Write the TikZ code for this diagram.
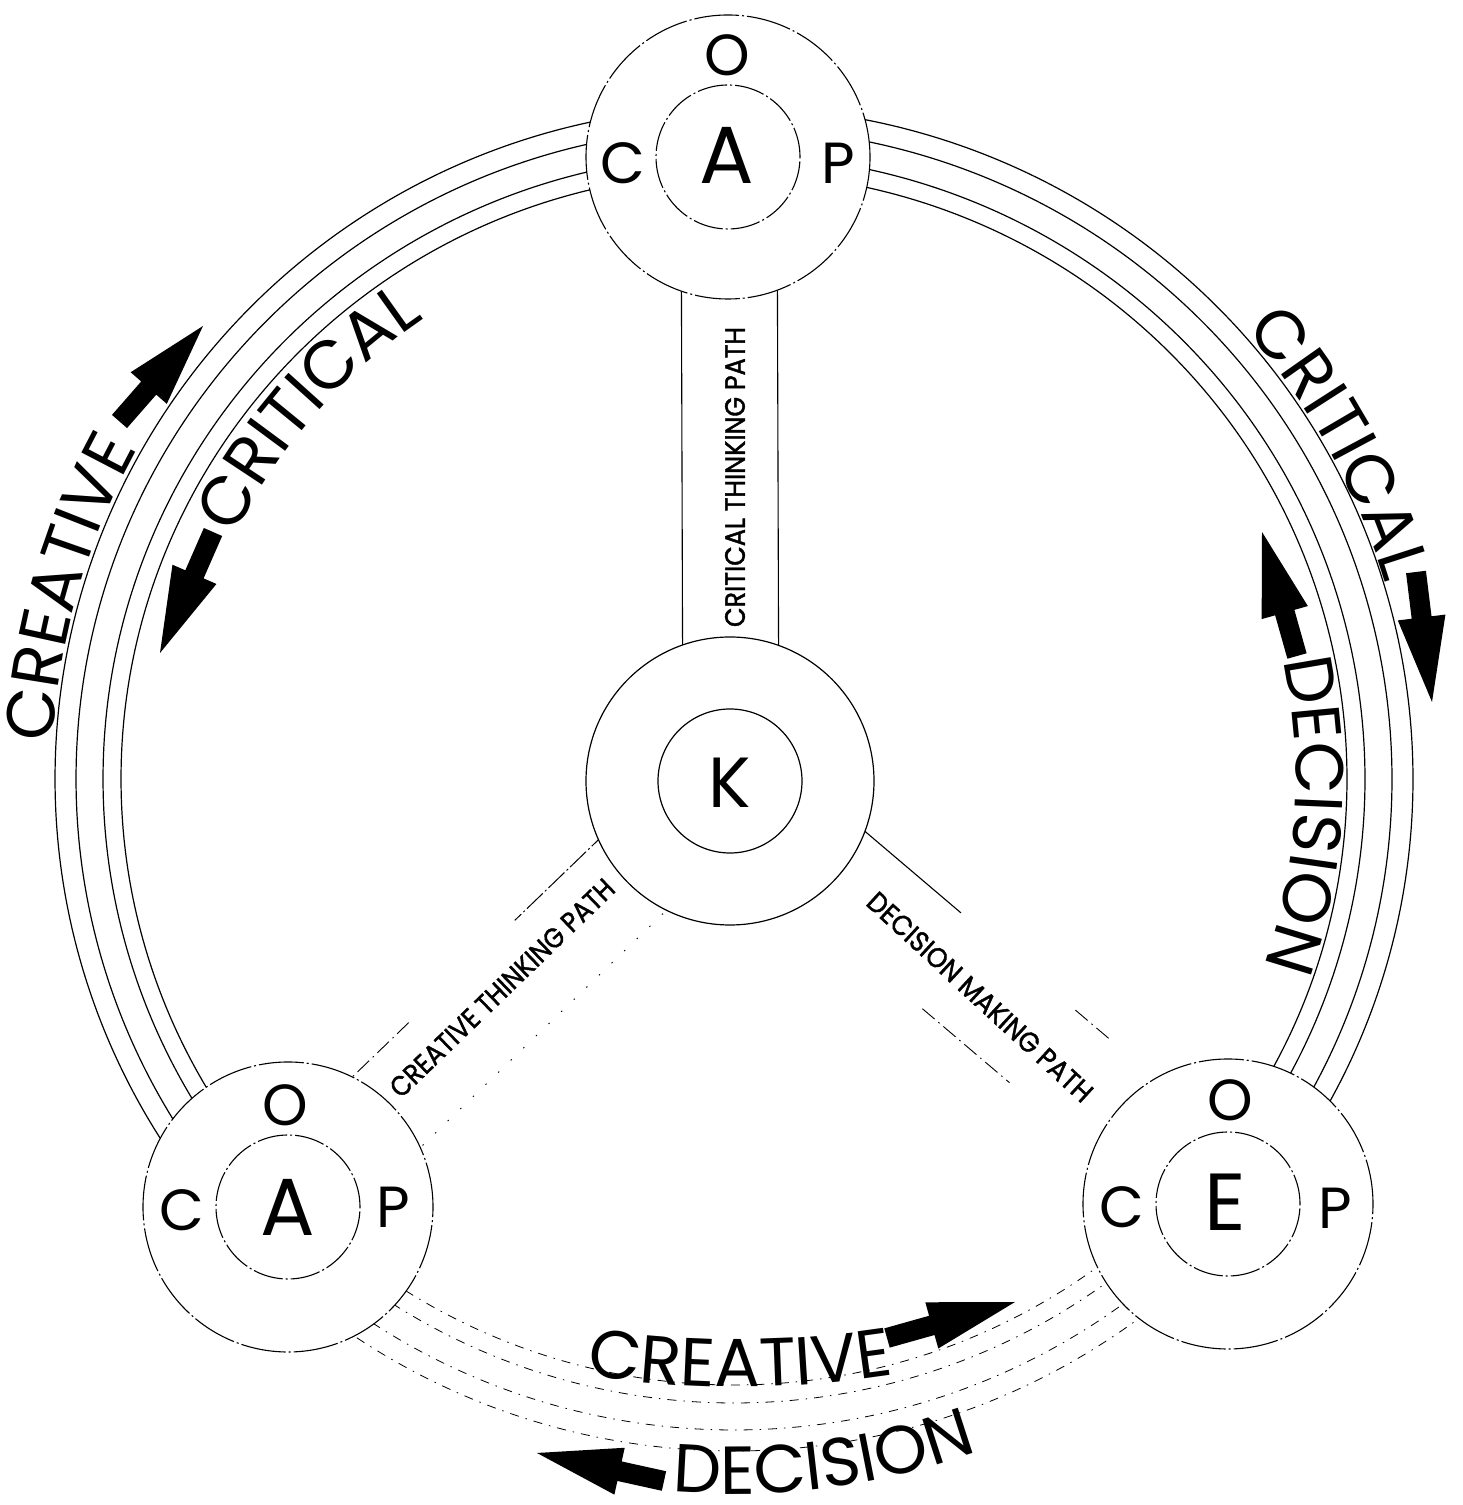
\documentclass[tikz,border=0pt]{standalone}
\usepackage{fontspec}
\setmainfont{Poppins}
\newfontfamily\labfont[FakeBold=1.6]{Poppins}
\usepackage{graphicx}
\usetikzlibrary{calc,decorations.text,backgrounds}

\newcommand\arcfs{\fontsize{68}{68}\selectfont}

\newcommand\ringseg[3]{%
  \foreach \ra/\rb in {613/606,631/624,658/651,679/672}{%
    \draw[#1] (Rc) ++({#2}:{\ra} and {\rb}) arc[start angle=#2, end angle=#3, x radius=\ra, y radius=\rb];}}

\newcommand\blockarrow[3]{%
  \coordinate (#1t) at (#2);
  \coordinate (#1h) at (#3);
  \coordinate (#1m) at ($(#1t)!0.35!(#1h)$);
  \fill ($(#1t)!10pt!90:(#1h)$) -- ($(#1m)!10pt!90:(#1h)$) -- ($(#1m)!24pt!90:(#1h)$) -- (#1h)
     -- ($(#1m)!24pt!-90:(#1h)$) -- ($(#1m)!10pt!-90:(#1h)$) -- ($(#1t)!10pt!-90:(#1h)$) -- cycle;}

\tikzset{
  ring/.style={line width=1.2pt},
  faint/.style={line width=0.9pt, dash pattern=on 16pt off 5pt on 1.5pt off 5pt},
  fainter/.style={line width=0.8pt, dash pattern=on 9pt off 7pt on 1.5pt off 7pt},
  sparse/.style={line width=0.9pt, dash pattern=on 1.5pt off 16pt},
  band/.style={line width=1.1pt},
  bandd/.style={line width=1pt, dash pattern=on 22pt off 3pt on 2pt off 3pt},
  outerc/.style={circle, draw, fill=white, minimum size=290pt, inner sep=0pt, line width=1.1pt,
     dash pattern=on 45pt off 3pt on 2pt off 3pt},
  kouter/.style={circle, draw, fill=white, minimum size=288pt, inner sep=0pt, line width=1.2pt},
  innerc/.style={circle, draw, minimum size=144pt, inner sep=0pt, line width=1.1pt,
     dash pattern=on 30pt off 3pt on 2pt off 3pt},
  kinner/.style={circle, draw, minimum size=144pt, inner sep=0pt, line width=1.2pt},
  big/.style={font=\fontsize{81}{81}\selectfont, inner sep=0pt},
  kfont/.style={font=\fontsize{71}{71}\selectfont, inner sep=0pt},
  mid/.style={font=\fontsize{58}{58}\selectfont, inner sep=0pt},
  lab/.style={font=\labfont\fontsize{28}{28}\selectfont, inner sep=0pt},
}

\begin{document}
\begin{tikzpicture}[x=1pt,y=1pt]
\useasboundingbox (0,0) rectangle (1463,1505);
\coordinate (Rc) at (734,726);

% main circles
\node[outerc, minimum size=284pt] (T) at (728,1348) {};
\node[outerc] (L) at (288,298) {};
\node[outerc] (R) at (1228,301) {};
\node[kouter] (K) at (730,724) {};
\node[innerc] (Ti) at (T.center) {};
\node[innerc] (Li) at (L.center) {};
\node[innerc] (Ri) at (R.center) {};
\node[kinner] (Ki) at (K.center) {};

% letters
\node[big] (TA) at (727,1350) {A};
\node[mid] (TO) at (727,1450) {O};
\node[mid] (TC) at (623,1342) {C};
\node[mid] (TP) at (838,1342) {P};
\node[big] (LA) at (288,298) {A};
\node[mid] (LO) at (285,400) {O};
\node[mid] (LC) at (182,295) {C};
\node[mid] (LP) at (393,298) {P};
\node[big] (RE) at (1225,303) {E};
\node[mid] (RO) at (1230,405) {O};
\node[mid] (RC) at (1122,298) {C};
\node[mid] (RP) at (1335,297) {P};
\node[kfont] (KK) at (730,722) {K};

\begin{scope}[on background layer]
\fill[white] (0,0) rectangle (1463,1505);
% outer ring
\ringseg{ring}{90.55}{223.8}
\ringseg{ring}{-40.7}{90.55}
\ringseg{fainter}{223.8}{319.3}
% critical thinking path band
\draw[band] ([xshift=-47pt]T.center) -- ([xshift=-47pt]K.center);
\draw[band] ([xshift=49pt]T.center) -- ([xshift=49pt]K.center);
% creative thinking path band
\draw[bandd] ($(K)!0.2!(L)!49pt!-90:(L)$) -- ($(K)!0.41!(L)!49pt!-90:(L)$);
\draw[faint] ($(K)!0.65!(L)!49pt!-90:(L)$) -- ($(K)!0.8!(L)!49pt!-90:(L)$);
\draw[sparse] ($(K)!0.2!(L)!49pt!90:(L)$) -- ($(K)!0.8!(L)!49pt!90:(L)$);
% decision making path band
\draw[band] ($(K)!0.19!(R)!49pt!90:(R)$) -- ($(K)!0.40!(R)!49pt!90:(R)$);
\draw[faint] ($(K)!0.63!(R)!49pt!90:(R)$) -- ($(K)!0.70!(R)!49pt!90:(R)$);
\draw[faint] ($(K)!0.45!(R)!49pt!-90:(R)$) -- ($(K)!0.625!(R)!49pt!-90:(R)$);
\end{scope}

% path labels
\node[lab, rotate=90] (ctp) at (735,1028) {\resizebox{300pt}{\height}{CRITICAL THINKING PATH}};
\node[lab, rotate=44] (cre) at (502,517) {\resizebox{300pt}{\height}{CREATIVE THINKING PATH}};
\node[lab, rotate=-42.6] (dmp) at (980,508) {\resizebox{295pt}{\height}{DECISION MAKING PATH}};

% curved words
\path[decorate,decoration={text along path,text align=center,text={|\arcfs|CREATIVE}}]
  (Rc) ++(189:682) arc[start angle=189,end angle=139,radius=682];
\path[decorate,decoration={text along path,text align=center,text={|\arcfs|CRITICAL}}]
  (Rc) ++(164:555) arc[start angle=164,end angle=114,radius=555];
\path[decorate,decoration={text along path,text align=center,text={|\arcfs|CRITICAL}}]
  (Rc) ++(54:680) arc[start angle=54,end angle=4,radius=680];
\path[decorate,decoration={text along path,text align=center,text={|\arcfs|DECISION}}]
  (Rc) ++(21.4:562) arc[start angle=21.4,end angle=-28.6,radius=562];
\path[decorate,decoration={text along path,text align=center,text={|\arcfs|DECISION}}]
  (Rc) ++(257.5:715) arc[start angle=257.5,end angle=297.5,radius=715];
\coordinate (Bc) at (740,1118);
\path[decorate,decoration={text along path,text align=center,text={|\arcfs|CREATIVE}}]
  (Bc) ++(256:1000) arc[start angle=256,end angle=284,radius=1000];

% block arrows
\blockarrow{a1}{119.5,1083.5}{203,1179}
\blockarrow{a2}{213,973}{160,852}
\blockarrow{a3}{1416,933}{1432,803}
\blockarrow{a4}{1297,849}{1262,973}
\blockarrow{a5}{887,167}{1015,203}
\blockarrow{a6}{664,24}{537,52}
\end{tikzpicture}
\end{document}
